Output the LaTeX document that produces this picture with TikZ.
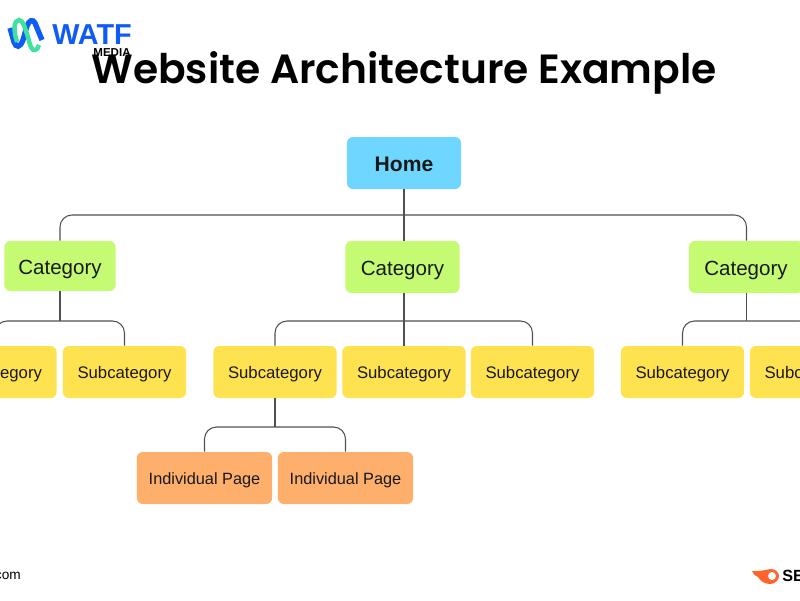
\documentclass[tikz,border=0pt]{standalone}
\usepackage{fontspec}
\setmainfont{Liberation Sans}
\newfontfamily\titlefont{Poppins SemiBold}
\definecolor{homeblue}{HTML}{6FD6FF}
\definecolor{catgreen}{HTML}{C5FB72}
\definecolor{subyellow}{HTML}{FFE24F}
\definecolor{pageorange}{HTML}{FFAF6C}
\definecolor{wiregrey}{HTML}{505050}
\definecolor{logoblue}{HTML}{0F5BF5}
\definecolor{logogreen}{HTML}{3FE0A0}
\definecolor{flame}{HTML}{FF642D}
\tikzset{
  box/.style={rounded corners=0.15cm,inner sep=0pt,text=black!90,text height=0.38cm,text depth=0.06cm},
  wire/.style={draw=wiregrey,line width=0.75pt,rounded corners=0.3cm},
  homebox/.style={box,fill=homeblue,minimum width=2.85cm,minimum height=1.3cm,text height=0.44cm,text depth=0.04cm,font=\fontsize{15}{18}\selectfont\bfseries},
  catbox/.style={box,fill=catgreen,minimum width=2.85cm,minimum height=1.3cm,text height=0.44cm,text depth=0.04cm,font=\fontsize{14.6}{17}\selectfont},
  subbox/.style={box,fill=subyellow,minimum width=3.08cm,minimum height=1.3cm,font=\fontsize{11.9}{14}\selectfont},
  pagebox/.style={box,fill=pageorange,minimum width=3.38cm,minimum height=1.3cm,font=\fontsize{11.6}{14}\selectfont},
}
\begin{document}
\begin{tikzpicture}[x=0.025cm,y=-0.025cm]
\useasboundingbox (0,0) rectangle (800,600);
\clip (0,0) rectangle (800,600);

\node (title) at (404,73) {\titlefont\fontsize{29}{35}\selectfont Website Architecture Example};

\node[homebox] (home) at (404,163) {Home};
\node[catbox,minimum width=2.78cm,minimum height=1.25cm] (cat-1) at (60,266) {Category};
\node[catbox] (cat-2) at (402.5,267) {Category};
\node[catbox] (cat-3) at (746,267) {Category};

\node[subbox] (sub-1) at (-5,372) {Subcategory};
\node[subbox] (sub-2) at (124.5,372) {Subcategory};
\node[subbox] (sub-3) at (275,372) {Subcategory};
\node[subbox] (sub-4) at (404,372) {Subcategory};
\node[subbox] (sub-5) at (532.5,372) {Subcategory};
\node[subbox] (sub-6) at (682.5,372) {Subcategory};
\node[subbox] (sub-7) at (811.5,372) {Subcategory};

\node[pagebox] (page-1) at (204.5,478) {Individual Page};
\node[pagebox] (page-2) at (345.5,478) {Individual Page};

\coordinate (bus-0) at (404,215);
\coordinate (bus-1) at (60,321);
\coordinate (bus-2) at (404,321);
\coordinate (bus-3) at (746.5,321);
\coordinate (bus-4) at (275,427);

\draw[wire] (cat-1.north) |- (bus-0) -| (bus-3 |- cat-3.north);
\draw[wire] (home.south) -- (home.south |- cat-2.north);
\draw[wire] (cat-1.south) -- (bus-1);
\draw[wire] (sub-1.north) |- (bus-1) -| (sub-2.north);
\draw[wire] (sub-4.north |- cat-2.south) -- (sub-4.north);
\draw[wire] (sub-3.north) |- (bus-2) -| (sub-5.north);
\draw[wire] (bus-3 |- cat-3.south) -- (bus-3);
\draw[wire] (sub-6.north) |- (bus-3) -| (sub-7.north);
\draw[wire] (sub-3.south) -- (bus-4);
\draw[wire] (page-1.north) |- (bus-4) -| (page-2.north);

% logos
\draw[logoblue,line width=3.8pt] (10,28) -- (14,42) .. controls (16,48) and (20,48) .. (23,40) -- (27,26) .. controls (29,20) and (33,19) .. (35,23) -- (42,40);
\draw[logogreen,line width=3.2pt] (17,42) .. controls (13,30) and (14,20) .. (19,20) .. controls (23,20) and (25,28) .. (28,37) .. controls (30,46) and (32,51) .. (35,50) .. controls (37,50) and (38,48) .. (39,45);
\node[text=logoblue,inner sep=0pt,anchor=west] (wtf) at (52,35) {\fontsize{20.5}{24}\selectfont\bfseries WATF};
\node[inner sep=0pt] (media) at (112,53) {\fontsize{8.2}{9}\selectfont\bfseries MEDIA};
\node[inner sep=0pt,anchor=east] (site) at (21,576) {\fontsize{9.7}{12}\selectfont com};
\fill[flame] (752,571) .. controls (758,572) and (764,570) .. (771,569) .. controls (776,569) and (779,573) .. (779,576) .. controls (779,580) and (775,584) .. (770,584) .. controls (765,584) and (760,581) .. (758,577) .. controls (755,576) and (753,574) .. (752,571) -- cycle;
\fill[white] (772,576) circle (4);
\node[inner sep=0pt,anchor=west] (brand) at (782,576) {\fontsize{11.5}{13}\selectfont\bfseries SE};
\end{tikzpicture}
\end{document}
